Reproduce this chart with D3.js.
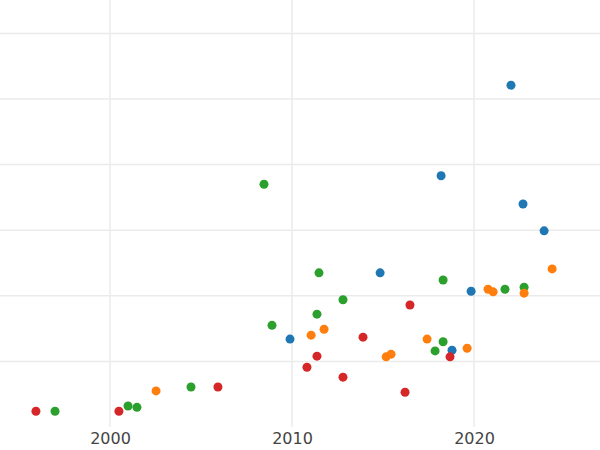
<!DOCTYPE html>
<html>
<head>
<meta charset="utf-8">
<script src="https://cdn.jsdelivr.net/npm/d3@7"></script>
<style>
  body { margin: 0; background: #fff; }
  .grid line { stroke: #ebebeb; stroke-width: 1.5; }
  .xaxis text { fill: #444; font-family: "DejaVu Sans", sans-serif; font-size: 16px; }
</style>
</head>
<body>
<script>
const width = 600;
const height = 450;

// years and values per series
const blueYears  = [2022.03, 2018.19, 2022.69, 2023.85, 2014.84, 2019.84, 2009.89, 2018.79];
const blueValues = [5.21, 3.83, 3.40, 2.99, 2.35, 2.07, 1.34, 1.17];
const greenYears  = [2008.46, 2011.48, 2018.30, 2021.70, 2022.75, 2012.80, 2011.37, 2008.90, 2018.30, 2017.86, 2004.45, 2000.99, 2001.48, 1996.98];
const greenValues = [3.70, 2.35, 2.24, 2.10, 2.13, 1.94, 1.72, 1.55, 1.30, 1.16, 0.61, 0.32, 0.30, 0.24];
const orangeYears  = [2024.29, 2020.77, 2021.05, 2022.75, 2011.76, 2011.05, 2017.42, 2019.62, 2015.44, 2015.17, 2002.53];
const orangeValues = [2.41, 2.10, 2.06, 2.04, 1.49, 1.40, 1.34, 1.20, 1.11, 1.07, 0.55];
const redYears  = [2016.48, 2013.90, 2011.37, 2018.68, 2010.82, 2012.80, 2005.93, 2016.21, 1995.93, 2000.49];
const redValues = [1.86, 1.37, 1.08, 1.07, 0.91, 0.76, 0.61, 0.53, 0.24, 0.24];
const xTicks = [2000, 2010, 2020];
const yGrid = [1, 2, 3, 4, 5, 6];

const series = [
  { color: '#1f77b4', years: blueYears, values: blueValues },
  { color: '#2ca02c', years: greenYears, values: greenValues },
  { color: '#ff7f0e', years: orangeYears, values: orangeValues },
  { color: '#d62728', years: redYears, values: redValues },
];

const x = d3.scaleLinear().domain([1993.956, 2026.92]).range([0, 600]);
const y = d3.scaleLinear().domain([0, 6]).range([427, 33.4]);

const svg = d3.select('body').append('svg')
  .attr('width', width)
  .attr('height', height);

const grid = svg.append('g').attr('class', 'grid');
grid.selectAll('.h').data(yGrid).join('line')
  .attr('x1', 0).attr('x2', width)
  .attr('y1', d => y(d)).attr('y2', d => y(d));
grid.selectAll('.v').data(xTicks).join('line')
  .attr('x1', d => x(d)).attr('x2', d => x(d))
  .attr('y1', 0).attr('y2', 427);

const xAxis = svg.append('g')
  .attr('class', 'xaxis')
  .attr('transform', 'translate(0,427)')
  .call(d3.axisBottom(x).tickValues(xTicks).tickFormat(d3.format('d')).tickSize(0).tickPadding(6));
xAxis.select('.domain').remove();

series.forEach(s => {
  svg.append('g').selectAll('circle')
    .data(s.years.map((yr, i) => ({ yr, v: s.values[i] })))
    .join('circle')
      .attr('cx', d => x(d.yr))
      .attr('cy', d => y(d.v))
      .attr('r', 4.5)
      .attr('fill', s.color);
});
</script>
</body>
</html>
